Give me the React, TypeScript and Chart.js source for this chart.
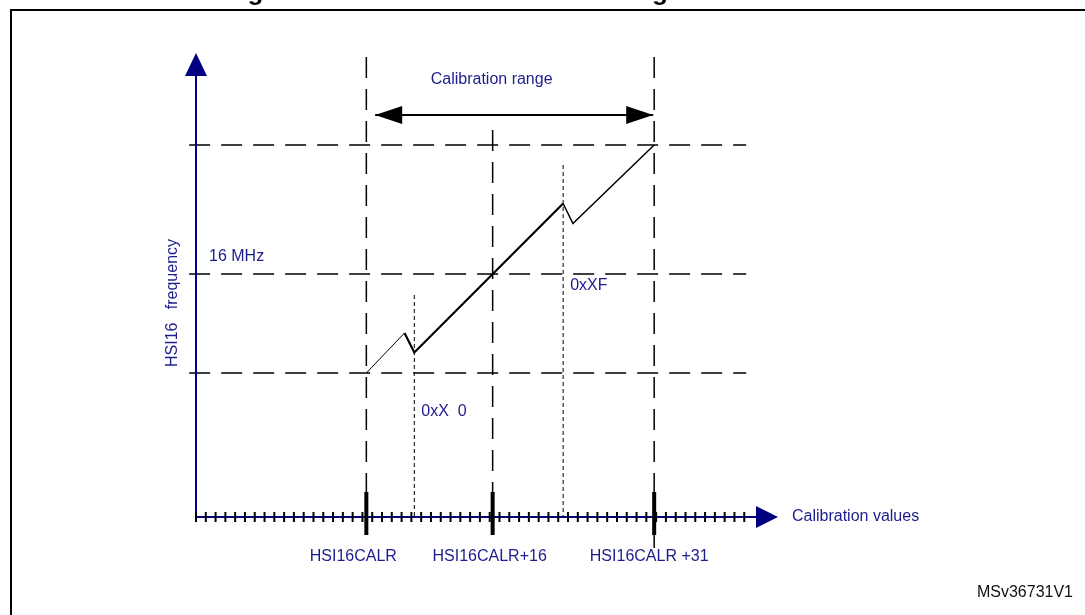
import React, { useEffect, useRef } from 'react';
import { Chart, registerables } from 'chart.js';

Chart.register(...registerables);

// ---- text ----
const TITLE = 'Figure 14. HSI16 oscillator trimming characteristics';
const X_AXIS_TITLE = 'Calibration values';
const Y_AXIS_TITLE = 'HSI16   frequency';
const RANGE_LABEL = 'Calibration range';
const REF_ID = 'MSv36731V1';

// ---- data (x in small-tick units from the frequency axis, y in schematic frequency units) ----
const axisTicks = [
  0, 1, 2, 3, 4, 5, 6, 7, 8, 9, 10, 11, 12, 13, 14, 15, 16, 17, 18, 19, 20,
  21, 22, 23, 24, 25, 26, 27, 28, 29, 30, 31, 32, 33, 34, 35, 36, 37, 38, 39,
  40, 41, 42, 43, 44, 45, 46, 47, 48, 49, 50, 51, 52, 53, 54, 55, 56,
];
const markerLabels = ['HSI16CALR', 'HSI16CALR+16', 'HSI16CALR +31'];
const markerX = [17.4, 30.3, 46.8];
const markerTopY = [46.0, 38.7, 46.0];
const markerTickTop = 2.5;
const markerTickBottom = -1.8;
const markerTailBottom = -3.1;
const codeLabels = ['0xX  0', '0xXF'];
const codeX = [22.3, 37.5];
const codeTopY = [22.2, 35.2];
const levelLabels = ['', '16 MHz', ''];
const levelY = [14.4, 24.3, 37.2];
const levelSpanX = [-0.7, 56.2];
const curveX = [17.4, 21.3, 22.3, 37.5, 38.5, 46.8];
const curveY = [14.4, 18.4, 16.45, 31.35, 29.35, 37.2];
const rangeX = [18.3, 46.7];
const rangeY = 40.2;
const xAxisEnd = 57.2;
const yAxisEnd = 44.1;

// ---- layout / style ----
const W = 1085;
const H = 615;
const X_ORIGIN_PX = 196;
const X_PX_PER_UNIT = 9.79;
const Y_ORIGIN_PX = 517;
const Y_PX_PER_UNIT = 10;
const INK = '#000000';
const NAVY = '#000080';
const TEXT = '#1c1c8c';
const FONT = '"Liberation Sans", Arial, Helvetica, sans-serif';
const markerLabelDx = [-13, -3, -5];
const codeLabelDy = [117, 121];

const pts = (xs: number[], ys: number[]) => xs.map((x, i) => ({ x, y: ys[i] }));

const seg = (data: any[], extra: any = {}) => ({
  data,
  showLine: true,
  pointRadius: 0,
  pointHoverRadius: 0,
  borderColor: INK,
  borderWidth: 1.5,
  fill: false,
  tension: 0,
  ...extra,
});

const decor = {
  id: 'decor',
  beforeDatasetsDraw(chart: any) {
    const { ctx } = chart;
    ctx.save();
    ctx.strokeStyle = INK;
    ctx.lineWidth = 2;
    ctx.beginPath();
    ctx.moveTo(11, H + 5);
    ctx.lineTo(11, 10);
    ctx.lineTo(W + 5, 10);
    ctx.stroke();
    ctx.fillStyle = INK;
    ctx.font = `bold 26px ${FONT}`;
    ctx.textAlign = 'center';
    ctx.textBaseline = 'alphabetic';
    ctx.fillText(TITLE, 541.5, 0);
    ctx.restore();
  },
  afterDatasetsDraw(chart: any) {
    const { ctx } = chart;
    const xs = chart.scales.x;
    const ys = chart.scales.y;
    const px = (v: number) => xs.getPixelForValue(v);
    const py = (v: number) => ys.getPixelForValue(v);
    const tri = (a: number[], b: number[], c: number[], color: string) => {
      ctx.fillStyle = color;
      ctx.beginPath();
      ctx.moveTo(a[0], a[1]);
      ctx.lineTo(b[0], b[1]);
      ctx.lineTo(c[0], c[1]);
      ctx.closePath();
      ctx.fill();
    };
    ctx.save();
    // axis arrowheads
    const yx = px(0);
    const yb = py(yAxisEnd);
    tri([yx, yb - 23], [yx - 11, yb], [yx + 11, yb], NAVY);
    const xb = px(xAxisEnd);
    const xy = py(0);
    tri([xb + 22, xy], [xb, xy - 11], [xb, xy + 11], NAVY);
    // calibration range arrowheads
    const ry = py(rangeY);
    const r0 = px(rangeX[0]);
    const r1 = px(rangeX[1]);
    tri([r0, ry], [r0 + 27, ry - 9], [r0 + 27, ry + 9], INK);
    tri([r1, ry], [r1 - 27, ry - 9], [r1 - 27, ry + 9], INK);

    // texts
    ctx.font = `16px ${FONT}`;
    ctx.fillStyle = TEXT;
    ctx.textBaseline = 'middle';
    ctx.textAlign = 'center';
    ctx.fillText(RANGE_LABEL, px(markerX[1]) - 1, ry - 35);
    markerLabels.forEach((t, i) => {
      ctx.fillText(t, px(markerX[i]) + markerLabelDx[i], py(0) + 40);
    });
    ctx.textAlign = 'left';
    levelLabels.forEach((t, i) => {
      if (t) ctx.fillText(t, px(0) + 13, py(levelY[i]) - 17);
    });
    codeLabels.forEach((t, i) => {
      ctx.fillText(t, px(codeX[i]) + 7, py(codeTopY[i]) + codeLabelDy[i]);
    });
    ctx.fillText(X_AXIS_TITLE, xb + 36, xy);
    ctx.save();
    ctx.translate(px(0) - 23, 303);
    ctx.rotate(-Math.PI / 2);
    ctx.textAlign = 'center';
    ctx.fillText(Y_AXIS_TITLE, 0, 0);
    ctx.restore();
    ctx.fillStyle = '#111111';
    ctx.textAlign = 'right';
    ctx.fillText(REF_ID, 1073, 593);
    ctx.restore();
  },
};

export default function App() {
  const ref = useRef<HTMLCanvasElement | null>(null);
  useEffect(() => {
    if (!ref.current) return;
    const datasets: any[] = [
      seg(pts(curveX, curveY), {
        borderWidth: 1.6,
        borderJoinStyle: 'miter',
        segment: {
          borderWidth: (c: any) => (c.p0DataIndex === 0 ? 1 : c.p0DataIndex <= 2 ? 2.2 : 1.5),
        },
      }),
      ...markerX.map((mx) => seg([{ x: mx, y: markerTickTop }, { x: mx, y: markerTickBottom }], { borderWidth: 4 })),
      seg([{ x: markerX[2], y: markerTickBottom }, { x: markerX[2], y: markerTailBottom }], { borderWidth: 1.5 }),
      {
        data: axisTicks.map((k) => ({ x: k, y: 0 })),
        showLine: false,
        pointStyle: 'line',
        rotation: 90,
        pointRadius: 5,
        pointHoverRadius: 5,
        pointBorderWidth: 2,
        pointBorderColor: INK,
        borderColor: INK,
      },
      seg([{ x: 0, y: 0 }, { x: xAxisEnd, y: 0 }], { borderColor: NAVY, borderWidth: 2 }),
      seg([{ x: 0, y: 0 }, { x: 0, y: yAxisEnd }], { borderColor: NAVY, borderWidth: 2 }),
      seg([{ x: rangeX[0], y: rangeY }, { x: rangeX[1], y: rangeY }], { borderWidth: 2 }),
      ...codeX.map((cx, i) => seg([{ x: cx, y: codeTopY[i] }, { x: cx, y: 0 }], { borderWidth: 1, borderDash: [4, 3] })),
      ...markerX.map((mx, i) => seg([{ x: mx, y: markerTopY[i] }, { x: mx, y: markerTickTop }], { borderDash: [21, 11] })),
      ...levelY.map((ly) => seg([{ x: levelSpanX[0], y: ly }, { x: levelSpanX[1], y: ly }], { borderDash: [21, 11] })),
    ];
    datasets.forEach((d, i) => (d.order = i));
    const xMin = -X_ORIGIN_PX / X_PX_PER_UNIT;
    const yMax = Y_ORIGIN_PX / Y_PX_PER_UNIT;
    const chart = new Chart(ref.current, {
      type: 'scatter',
      data: { datasets },
      options: {
        animation: false,
        responsive: false,
        maintainAspectRatio: false,
        events: [],
        layout: { padding: 0, autoPadding: false },
        plugins: {
          legend: { display: false },
          tooltip: { enabled: false },
          title: { display: false },
        },
        scales: {
          x: { type: 'linear', display: false, min: xMin, max: xMin + W / X_PX_PER_UNIT },
          y: { type: 'linear', display: false, min: yMax - H / Y_PX_PER_UNIT, max: yMax },
        },
      },
      plugins: [decor],
    } as any);
    return () => chart.destroy();
  }, []);
  return (
    <div style={{ position: 'fixed', left: 0, top: 0, width: W, height: H, background: '#ffffff' }}>
      <canvas ref={ref} width={W} height={H} style={{ display: 'block', width: W, height: H }} />
    </div>
  );
}
